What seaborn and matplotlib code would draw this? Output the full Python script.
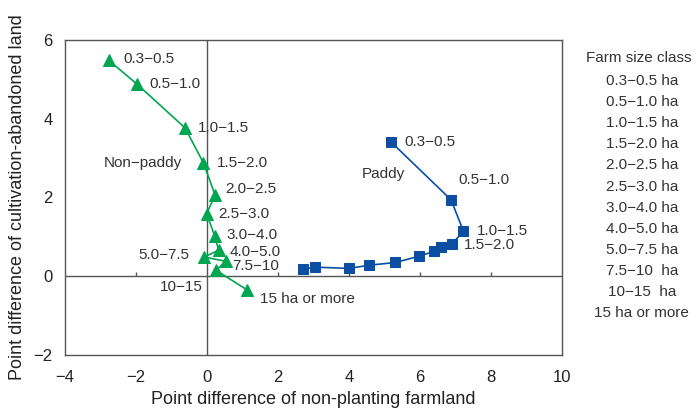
import matplotlib
matplotlib.use("Agg")
import seaborn as sns
import matplotlib.pyplot as plt

# farm size classes (legend, right side)
size_classes = ["0.3−0.5 ha", "0.5−1.0 ha", "1.0−1.5 ha", "1.5−2.0 ha", "2.0−2.5 ha",
                "2.5−3.0 ha", "3.0−4.0 ha", "4.0−5.0 ha", "5.0−7.5 ha", "7.5−10  ha",
                "10−15  ha", "15 ha or more"]

# non-paddy series (green triangles)
nonpaddy_x = [-2.76, -1.96, -0.62, -0.10, 0.23, -0.01, 0.22, 0.33, -0.08, 0.53, 0.26, 1.12]
nonpaddy_y = [5.48, 4.87, 3.77, 2.88, 2.06, 1.59, 1.02, 0.66, 0.49, 0.38, 0.15, -0.34]
nonpaddy_labels = ["0.3−0.5", "0.5−1.0", "1.0−1.5", "1.5−2.0", "2.0−2.5", "2.5−3.0",
                   "3.0−4.0", "4.0−5.0", "5.0−7.5", "7.5−10", "10−15", "15 ha or more"]

# paddy series (blue squares)
paddy_x = [5.20, 6.88, 7.23, 6.91, 6.60, 6.39, 5.99, 5.31, 4.58, 4.00, 3.05, 2.72]
paddy_y = [3.40, 1.94, 1.14, 0.83, 0.74, 0.63, 0.51, 0.35, 0.28, 0.20, 0.23, 0.18]
paddy_labels = ["0.3−0.5", "0.5−1.0", "1.0−1.5", "1.5−2.0"]

x_ticks = [-4, -2, 0, 2, 4, 6, 8, 10]
y_ticks = [-2, 0, 2, 4, 6]

GREEN = "#00a651"
BLUE = "#0b4ea2"
TXT = "#333333"
AX = "#555555"

sns.set_style("white")
plt.rcParams["font.family"] = ["Liberation Sans", "DejaVu Sans"]
plt.rcParams["font.size"] = 11

fig = plt.figure(figsize=(6.97, 4.15), dpi=100)
ax = fig.add_axes([0.0933, 0.1446, 0.7127, 0.759])

ax.axhline(0, color=AX, lw=1, zorder=1)
ax.axvline(0, color=AX, lw=1, zorder=1)
# x ticks drawn on the y=0 line
ax.vlines([t for t in x_ticks if t not in (-4, 0, 10)], 0, 0.12, color=AX, lw=1, zorder=1)

sns.lineplot(x=nonpaddy_x, y=nonpaddy_y, sort=False, ax=ax, color=GREEN, lw=1.2,
             marker="^", markersize=8, markeredgecolor=GREEN, zorder=3)
sns.lineplot(x=paddy_x, y=paddy_y, sort=False, ax=ax, color=BLUE, lw=1.2,
             marker="s", markersize=7, markeredgecolor=BLUE, zorder=3)

# label offsets in pixels (dx, dy, ha)
np_offsets = [(14, 1, "left"), (12, 0, "left"), (13, 0, "left"), (13, 0, "left"),
              (10, 6, "left"), (12, 0, "left"), (12, 1, "left"), (11, -2, "left"),
              (-15, 2, "right"), (6, -5, "left"), (-13, -17, "right"), (13, -9, "left")]
for lab, x, y, (dx, dy, ha) in zip(nonpaddy_labels, nonpaddy_x, nonpaddy_y, np_offsets):
    ax.annotate(lab, (x, y), xytext=(dx, dy), textcoords="offset pixels",
                ha=ha, va="center", color=TXT, fontsize=11)

p_offsets = [(13, 0), (7, 20), (13, 0), (12, -1)]
for lab, x, y, (dx, dy) in zip(paddy_labels, paddy_x, paddy_y, p_offsets):
    ax.annotate(lab, (x, y), xytext=(dx, dy), textcoords="offset pixels",
                ha="left", va="center", color=TXT, fontsize=11)

ax.text(-1.8, 2.88, "Non−paddy", ha="center", va="center", color=TXT, fontsize=11)
ax.text(4.98, 2.6, "Paddy", ha="center", va="center", color=TXT, fontsize=11)

ax.set_xlim(-4, 10)
ax.set_ylim(-2, 6)
ax.set_xticks(x_ticks)
ax.set_yticks(y_ticks)
ax.set_xticklabels([str(t).replace("-", "−") for t in x_ticks])
ax.set_yticklabels([str(t).replace("-", "−") for t in y_ticks])
ax.tick_params(axis="x", length=0, pad=11, labelsize=12, colors="#222222")
ax.tick_params(axis="y", direction="in", length=4, width=1, color=AX, pad=9,
               labelsize=12, labelcolor="#222222")
ax.set_xlabel("Point difference of non-planting farmland", fontsize=13, color="#222222", labelpad=4)
ax.set_ylabel("Point difference of cultivation-abandoned land", fontsize=13, color="#222222", labelpad=5)
for s in ax.spines.values():
    s.set_color(AX)
    s.set_linewidth(1)

# farm size class legend
fig.text(0.917, 1 - 58 / 415, "Farm size class", ha="center", va="center", color=TXT, fontsize=11)
for i, lab in enumerate(size_classes):
    fig.text(0.921, 1 - (81 + i * 21.1) / 415, lab, ha="center", va="center", color=TXT, fontsize=11)

fig.savefig("out.png", dpi=100)
